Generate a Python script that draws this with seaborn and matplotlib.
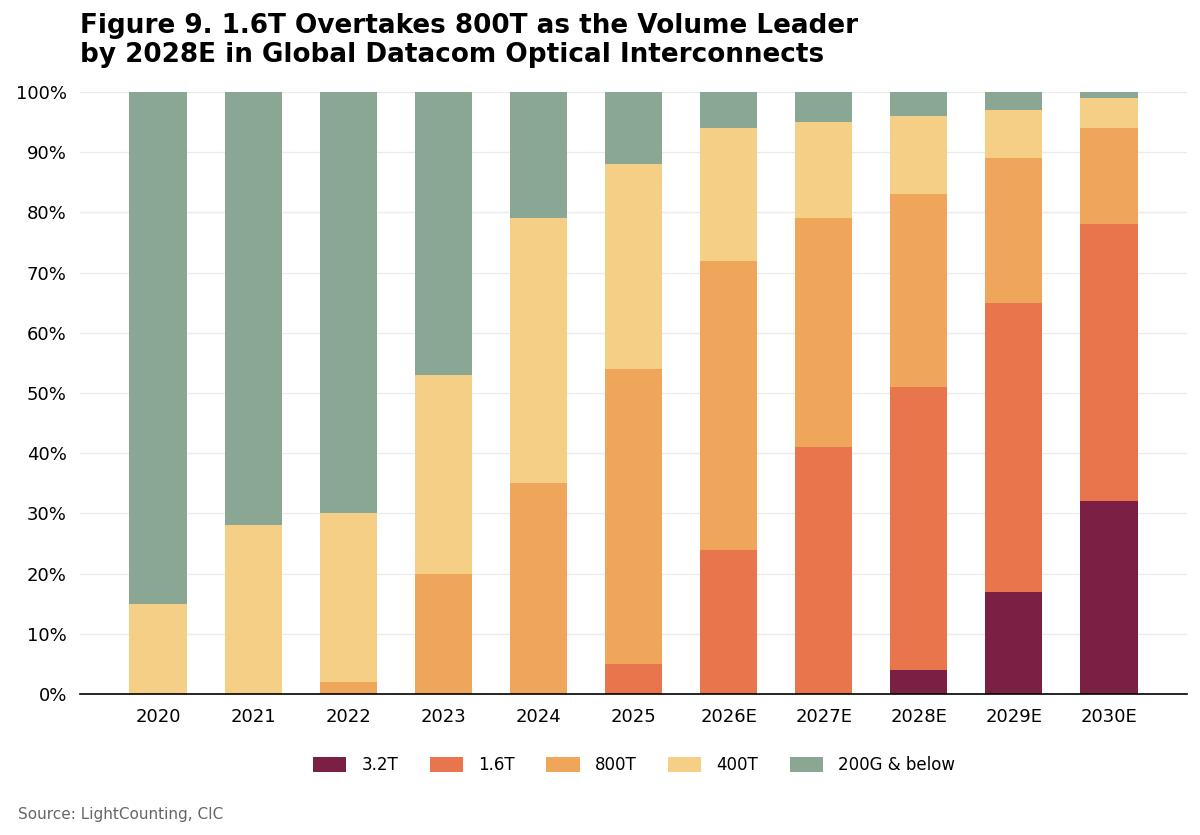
import numpy as np
import pandas as pd
import matplotlib
matplotlib.use("Agg")
import matplotlib.pyplot as plt
from matplotlib.patches import Patch
import seaborn as sns

years = ["2020", "2021", "2022", "2023", "2024", "2025",
         "2026E", "2027E", "2028E", "2029E", "2030E"]

# share of shipments (%), bottom to top
share_32t = [0, 0, 0, 0, 0, 0, 0, 0, 4, 17, 32]
share_16t = [0, 0, 0, 0, 0, 5, 24, 41, 47, 48, 46]
share_800 = [0, 0, 2, 20, 35, 49, 48, 38, 32, 24, 16]
share_400 = [15, 28, 28, 33, 44, 34, 22, 16, 13, 8, 5]
share_200 = [85, 72, 70, 47, 21, 12, 6, 5, 4, 3, 1]

series = ["3.2T", "1.6T", "800T", "400T", "200G & below"]
colors = ["#7B1F45", "#E8754C", "#F0A65A", "#F6CF86", "#8AA794"]

df = pd.DataFrame({"year": years, "3.2T": share_32t, "1.6T": share_16t,
                   "800T": share_800, "400T": share_400,
                   "200G & below": share_200})

sns.set_style("white")
plt.rcParams["font.family"] = ["DejaVu Sans"]
plt.rcParams["text.color"] = "black"
plt.rcParams["xtick.color"] = "black"
plt.rcParams["ytick.color"] = "black"

fig = plt.figure(figsize=(12, 8.35), dpi=100)
ax = fig.add_axes([80 / 1200, 1 - 694 / 835, 1107 / 1200, 602 / 835])

# stack by drawing cumulative totals, tallest first
cum = df[series].cumsum(axis=1)
for name, col in reversed(list(zip(series, colors))):
    sns.barplot(x=df["year"], y=cum[name], color=col, width=0.6,
                saturation=1, ax=ax, zorder=2, edgecolor="none", linewidth=0)

ax.set_ylim(0, 100)
ax.set_xlim(-0.82, 10.82)
ax.set_yticks(np.arange(0, 101, 10))
ax.set_yticklabels([f"{v}%" for v in range(0, 101, 10)], fontsize=13)
ax.tick_params(axis="x", labelsize=13, length=0, pad=10)
ax.tick_params(axis="y", length=0, pad=9.5)
ax.set_xlabel("")
ax.set_ylabel("")
ax.yaxis.grid(True, color="#EBEBEB", linewidth=1, zorder=0)
ax.set_axisbelow(True)
for s in ["top", "right", "left"]:
    ax.spines[s].set_visible(False)
ax.spines["bottom"].set_color("black")
ax.spines["bottom"].set_linewidth(1.2)

handles = [Patch(facecolor=c, edgecolor="none", label=n) for n, c in zip(series, colors)]
fig.legend(handles=handles, loc="center", bbox_to_anchor=(634 / 1200, 1 - 765 / 835),
           ncol=5, frameon=False, fontsize=12, handlelength=2.0, handleheight=1.0,
           handletextpad=0.9, columnspacing=1.9)

fig.text(80 / 1200, 1 - 13 / 835,
         "Figure 9. 1.6T Overtakes 800T as the Volume Leader\n"
         "by 2028E in Global Datacom Optical Interconnects",
         fontsize=18.9, fontweight="bold", va="top", ha="left", linespacing=1.15)
fig.text(18 / 1200, 1 - 814 / 835, "Source: LightCounting, CIC",
         fontsize=11, color="#666666", va="center", ha="left")

fig.savefig("out.png", dpi=100)
